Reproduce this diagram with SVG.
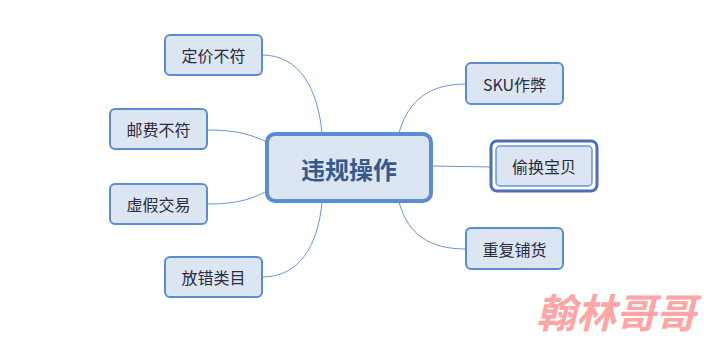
<svg xmlns="http://www.w3.org/2000/svg" width="704" height="341" viewBox="0 0 704 341">
<style>
.n rect{fill:#dce6f3;stroke:#5b8cd1;stroke-width:2}
.n text{font-family:"Noto Sans CJK SC","Noto Sans",sans-serif;font-size:16px;fill:#2a2a40;text-anchor:middle;dominant-baseline:central}
.c path{fill:none;stroke:#6a95d6;stroke-width:1}
</style>
<rect width="704" height="341" fill="#ffffff"/>
<g class="c" id="connectors">
<path d="M262,55 C300,55 318,90 322,133"/>
<path d="M207,130 C235,130 250,134 267,142"/>
<path d="M207,204 C235,204 250,200 267,191"/>
<path d="M262,277 C300,277 318,245 322,202"/>
<path d="M466,84 C430,84 408,100 399,133"/>
<path d="M432,166 L491,167"/>
<path d="M466,249 C430,249 408,235 399,202"/>
</g>
<g class="n" id="center">
<rect x="267" y="134" width="164" height="67" rx="8" style="stroke-width:4"/>
<text x="349" y="168" style="font-size:24px;font-weight:bold;fill:#345a8e">违规操作</text>
</g>
<g class="n" id="n1"><rect x="165" y="35" width="97" height="40" rx="5"/><text x="213.5" y="55">定价不符</text></g>
<g class="n" id="n2"><rect x="110" y="109" width="97" height="40" rx="5"/><text x="158.5" y="129">邮费不符</text></g>
<g class="n" id="n3"><rect x="110" y="184" width="97" height="40" rx="5"/><text x="158.5" y="204">虚假交易</text></g>
<g class="n" id="n4"><rect x="165" y="257" width="97" height="40" rx="5"/><text x="213.5" y="277">放错类目</text></g>
<g class="n" id="n5"><rect x="466" y="63" width="97" height="41" rx="5"/><text x="514.5" y="84">SKU作弊</text></g>
<g class="n" id="n6">
<rect x="491" y="141" width="106" height="50" rx="6" style="fill:none;stroke:#4a70b8;stroke-width:3"/>
<rect x="496" y="146" width="96" height="40" rx="4" style="stroke:#6a95d6;stroke-width:1.5"/>
<text x="544" y="166">偷换宝贝</text>
</g>
<g class="n" id="n7"><rect x="466" y="228" width="97" height="41" rx="5"/><text x="514.5" y="249">重复铺货</text></g>
<text x="616" y="311" style="font-family:'Noto Sans CJK SC',sans-serif;font-size:40px;font-weight:bold;font-style:italic;fill:#ff9c9c;text-anchor:middle;dominant-baseline:central;opacity:0.9">翰林哥哥</text>
</svg>
